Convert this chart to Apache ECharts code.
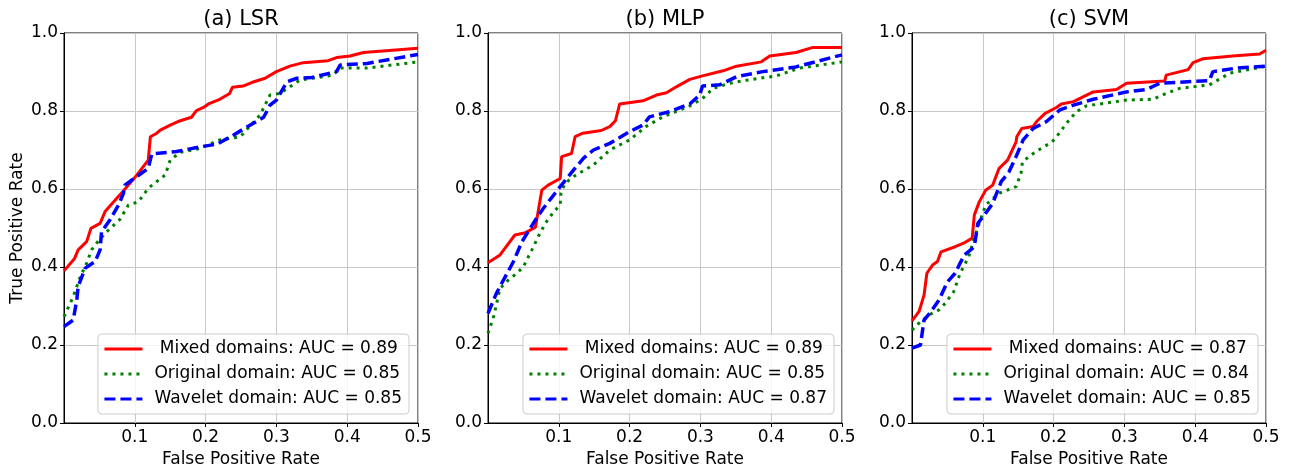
<!DOCTYPE html>
<html>
<head>
<meta charset="utf-8">
<script src="https://cdn.jsdelivr.net/npm/echarts@6/dist/echarts.min.js"></script>
<style>
  html, body { margin: 0; padding: 0; background: #fff; }
  #chart { width: 1293px; height: 468px; }
</style>
</head>
<body>
<div id="chart"></div>
<script>
var panelTitles = ['(a) LSR', '(b) MLP', '(c) SVM'];
var domainNames = [' Mixed domains', 'Original domain', 'Wavelet domain'];
var aucValues = [
    ['0.89', '0.85', '0.85'],
    ['0.89', '0.85', '0.87'],
    ['0.87', '0.84', '0.85']
];
var xTicks = [0, 0.1, 0.2, 0.3, 0.4, 0.5];
var yTicks = [0, 0.2, 0.4, 0.6, 0.8, 1.0];

// ROC points [FPR, TPR]
var lsrMixed = [[0,0.39],[0.015,0.422],[0.02,0.444],[0.032,0.465],[0.038,0.499],[0.051,0.512],[0.058,0.542],[0.079,0.585],[0.103,0.636],[0.119,0.674],[0.122,0.734],[0.131,0.743],[0.136,0.751],[0.15,0.764],[0.161,0.773],[0.18,0.784],[0.187,0.801],[0.197,0.809],[0.204,0.818],[0.22,0.83],[0.234,0.845],[0.238,0.861],[0.253,0.864],[0.265,0.873],[0.284,0.884],[0.3,0.901],[0.319,0.915],[0.338,0.924],[0.373,0.929],[0.385,0.937],[0.404,0.941],[0.423,0.95],[0.5,0.961]];
var lsrOriginal = [[0,0.273],[0.013,0.324],[0.023,0.375],[0.032,0.41],[0.039,0.444],[0.046,0.461],[0.06,0.49],[0.079,0.522],[0.091,0.559],[0.105,0.567],[0.119,0.602],[0.143,0.636],[0.15,0.674],[0.164,0.694],[0.192,0.704],[0.22,0.726],[0.249,0.734],[0.277,0.79],[0.291,0.841],[0.305,0.845],[0.319,0.862],[0.333,0.879],[0.38,0.892],[0.39,0.91],[0.428,0.91],[0.5,0.926]];
var lsrWavelet = [[0,0.247],[0.013,0.264],[0.018,0.315],[0.02,0.35],[0.03,0.397],[0.044,0.414],[0.051,0.444],[0.053,0.49],[0.065,0.521],[0.077,0.559],[0.084,0.589],[0.086,0.61],[0.096,0.623],[0.119,0.653],[0.124,0.69],[0.159,0.696],[0.192,0.708],[0.216,0.715],[0.239,0.738],[0.282,0.784],[0.291,0.815],[0.3,0.828],[0.315,0.875],[0.329,0.884],[0.35,0.886],[0.385,0.901],[0.39,0.918],[0.428,0.922],[0.5,0.945]];

var mlpMixed = [[0,0.411],[0.017,0.431],[0.038,0.482],[0.053,0.488],[0.067,0.502],[0.076,0.597],[0.085,0.61],[0.102,0.627],[0.104,0.683],[0.118,0.691],[0.123,0.734],[0.134,0.743],[0.16,0.75],[0.172,0.76],[0.18,0.775],[0.186,0.818],[0.219,0.826],[0.238,0.841],[0.252,0.847],[0.266,0.862],[0.285,0.881],[0.303,0.89],[0.332,0.903],[0.351,0.915],[0.386,0.926],[0.398,0.941],[0.435,0.95],[0.459,0.963],[0.5,0.963]];
var mlpOriginal = [[0,0.23],[0.008,0.273],[0.017,0.345],[0.029,0.367],[0.041,0.384],[0.05,0.401],[0.062,0.444],[0.071,0.478],[0.081,0.512],[0.093,0.542],[0.102,0.559],[0.103,0.589],[0.109,0.615],[0.121,0.632],[0.149,0.662],[0.172,0.7],[0.2,0.726],[0.223,0.76],[0.247,0.785],[0.285,0.813],[0.303,0.832],[0.318,0.858],[0.341,0.871],[0.365,0.879],[0.407,0.89],[0.44,0.91],[0.5,0.926]];
var mlpWavelet = [[0,0.281],[0.012,0.333],[0.022,0.367],[0.036,0.414],[0.048,0.465],[0.067,0.521],[0.078,0.55],[0.102,0.606],[0.121,0.649],[0.135,0.679],[0.149,0.7],[0.172,0.717],[0.2,0.747],[0.219,0.764],[0.228,0.785],[0.256,0.798],[0.285,0.818],[0.299,0.841],[0.303,0.864],[0.327,0.867],[0.351,0.888],[0.388,0.901],[0.435,0.913],[0.5,0.944]];

var svmMixed = [[0,0.262],[0.01,0.286],[0.017,0.328],[0.021,0.384],[0.029,0.405],[0.036,0.414],[0.041,0.439],[0.061,0.452],[0.073,0.461],[0.085,0.474],[0.088,0.533],[0.095,0.567],[0.104,0.597],[0.114,0.61],[0.123,0.653],[0.135,0.674],[0.147,0.721],[0.148,0.734],[0.155,0.755],[0.171,0.76],[0.176,0.773],[0.188,0.794],[0.204,0.809],[0.211,0.818],[0.228,0.824],[0.256,0.849],[0.289,0.855],[0.303,0.871],[0.357,0.877],[0.359,0.892],[0.39,0.906],[0.397,0.924],[0.411,0.934],[0.453,0.941],[0.491,0.946],[0.5,0.956]];
var svmOriginal = [[0,0.238],[0.012,0.26],[0.024,0.277],[0.038,0.29],[0.047,0.307],[0.059,0.337],[0.068,0.384],[0.08,0.426],[0.088,0.474],[0.095,0.512],[0.104,0.559],[0.123,0.589],[0.147,0.606],[0.154,0.64],[0.156,0.67],[0.175,0.696],[0.198,0.721],[0.208,0.743],[0.218,0.768],[0.232,0.798],[0.246,0.813],[0.303,0.828],[0.34,0.83],[0.359,0.845],[0.378,0.858],[0.42,0.867],[0.449,0.897],[0.5,0.915]];
var svmWavelet = [[0,0.192],[0.012,0.2],[0.017,0.264],[0.027,0.286],[0.038,0.315],[0.05,0.362],[0.061,0.384],[0.068,0.41],[0.074,0.431],[0.088,0.452],[0.093,0.512],[0.104,0.538],[0.114,0.563],[0.126,0.619],[0.137,0.644],[0.147,0.683],[0.157,0.726],[0.171,0.755],[0.19,0.773],[0.209,0.803],[0.228,0.815],[0.256,0.83],[0.303,0.849],[0.331,0.855],[0.35,0.871],[0.42,0.878],[0.425,0.901],[0.458,0.91],[0.5,0.915]];

var panelData = [
    [lsrMixed, lsrOriginal, lsrWavelet],
    [mlpMixed, mlpOriginal, mlpWavelet],
    [svmMixed, svmOriginal, svmWavelet]
];

var FONT = 'DejaVu Sans';
var lineColors = ['#ff0000', '#008000', '#0000ff'];
var lineTypes = ['solid', [3, 5], [11, 5]];
var lineWidths = [3, 3, 3.5];

var gridLefts = [64, 488, 912];
var gridWidth = 354;
var legendRights = [884, 459, 35];

var grids = [], xAxes = [], yAxes = [], titles = [], legends = [], series = [];

for (var p = 0; p < 3; p++) {
    grids.push({
        left: gridLefts[p], top: 33, width: gridWidth, height: 390,
        outerBoundsMode: 'none',
        show: true, borderColor: '#000', borderWidth: 1, backgroundColor: 'transparent'
    });
    titles.push({
        text: panelTitles[p],
        left: gridLefts[p] + gridWidth / 2,
        textAlign: 'center',
        top: 9,
        padding: 0,
        textStyle: { fontFamily: FONT, fontSize: 21, fontWeight: 'normal', color: '#000' }
    });
    xAxes.push({
        gridIndex: p,
        type: 'value',
        min: xTicks[0], max: xTicks[xTicks.length - 1], interval: 0.1,
        name: 'False Positive Rate',
        nameLocation: 'middle',
        nameGap: 25,
        nameTextStyle: { fontFamily: FONT, fontSize: 17, color: '#000' },
        axisLine: { show: true, lineStyle: { color: '#000', width: 1 } },
        axisTick: { show: true, length: 4, lineStyle: { color: '#000' } },
        axisLabel: {
            showMinLabel: false, margin: 6,
            fontFamily: FONT, fontSize: 17, color: '#000',
            formatter: function (v) { return v.toFixed(1); }
        },
        splitLine: { show: true, lineStyle: { color: '#c8c8c8', width: 1 } }
    });
    yAxes.push({
        gridIndex: p,
        type: 'value',
        min: yTicks[0], max: yTicks[yTicks.length - 1], interval: 0.2,
        name: p === 0 ? 'True Positive Rate' : '',
        nameLocation: 'middle',
        nameGap: 38,
        nameTextStyle: { fontFamily: FONT, fontSize: 17, color: '#000' },
        axisLine: { show: true, lineStyle: { color: '#000', width: 1 } },
        axisTick: { show: true, length: 4, lineStyle: { color: '#000' } },
        axisLabel: {
            margin: 6,
            fontFamily: FONT, fontSize: 17, color: '#000',
            formatter: function (v) { return v.toFixed(1); }
        },
        splitLine: { show: true, lineStyle: { color: '#c8c8c8', width: 1 } }
    });

    var names = [];
    for (var s = 0; s < 3; s++) {
        var nm = domainNames[s] + ': AUC = ' + aucValues[p][s];
        names.push(nm);
        series.push({
            name: nm,
            type: 'line',
            xAxisIndex: p,
            yAxisIndex: p,
            data: panelData[p][s],
            symbol: 'none',
            animation: false,
            lineStyle: { color: lineColors[s], width: lineWidths[s], type: lineTypes[s], cap: 'butt' },
            itemStyle: { color: lineColors[s] }
        });
    }
    legends.push({
        data: names,
        orient: 'vertical',
        right: legendRights[p],
        bottom: 54,
        itemWidth: 38,
        itemHeight: 14,
        itemGap: 5,
        padding: [5, 7, 5, 5],
        backgroundColor: 'rgba(255,255,255,0.8)',
        borderColor: '#cccccc',
        borderWidth: 1,
        borderRadius: 4,
        selectedMode: false,
        itemStyle: { color: 'rgba(0,0,0,0)', borderWidth: 0 },
        lineStyle: { width: 3 },
        textStyle: { fontFamily: FONT, fontSize: 17, color: '#000', lineHeight: 20, padding: [0, 0, 0, 7] }
    });
}

var myChart = echarts.init(document.getElementById('chart'), null, { renderer: 'canvas' });
myChart.setOption({
    backgroundColor: '#ffffff',
    animation: false,
    title: titles,
    grid: grids,
    xAxis: xAxes,
    yAxis: yAxes,
    legend: legends,
    series: series
});
</script>
</body>
</html>
